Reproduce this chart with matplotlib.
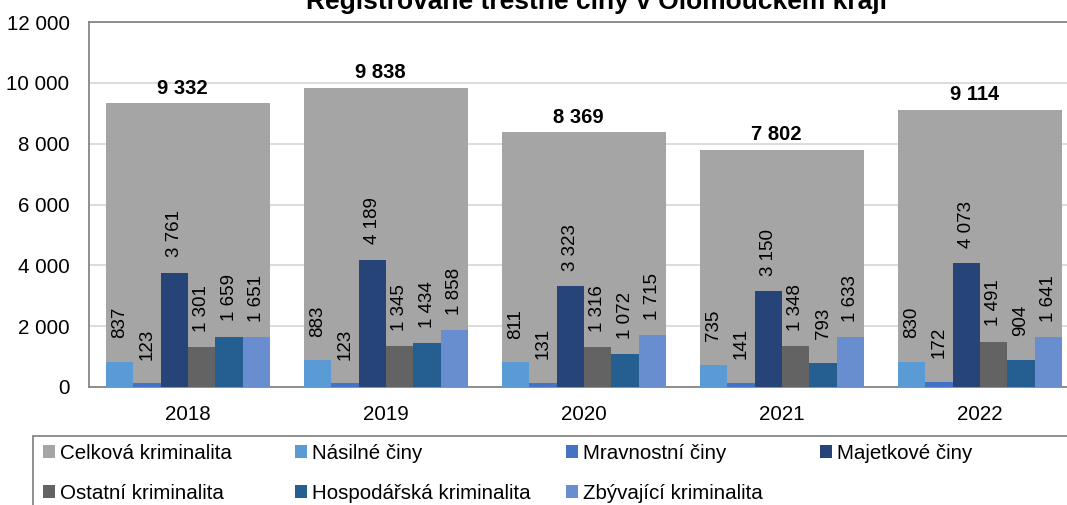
import matplotlib.pyplot as plt
import numpy as np

plt.rcParams['font.family'] = ['Liberation Sans', 'DejaVu Sans']

years = ['2018', '2019', '2020', '2021', '2022']
celkova = [9332, 9838, 8369, 7802, 9114]
nasilne = [837, 883, 811, 735, 830]
mravnostni = [123, 123, 131, 141, 172]
majetkove = [3761, 4189, 3323, 3150, 4073]
ostatni = [1301, 1345, 1316, 1348, 1491]
hospodarska = [1659, 1434, 1072, 793, 904]
zbyvajici = [1651, 1858, 1715, 1633, 1641]

names = ['Celková kriminalita', 'Násilné činy', 'Mravnostní činy', 'Majetkové činy',
         'Ostatní kriminalita', 'Hospodářská kriminalita', 'Zbývající kriminalita']
colors = ['#A5A5A5', '#5B9BD5', '#4472C4', '#264478', '#636363', '#255E91', '#698ED0']

def fmt(v):
    return f'{v:,.0f}'.replace(',', ' ')

W, H = 1067, 505
fig = plt.figure(figsize=(W / 100, H / 100), dpi=100)
ax = fig.add_axes([89 / W, 1 - 387 / H, 990 / W, 365 / H])

x = np.arange(len(years))
wtot = 0.83
small = [nasilne, mravnostni, majetkove, ostatni, hospodarska, zbyvajici]
ws = wtot / len(small)

ax.bar(x, celkova, wtot, color=colors[0], label=names[0], zorder=2)
for xi, v in zip(x, celkova):
    ax.annotate(fmt(v), (xi, v), xytext=(-4, 4), textcoords='offset points',
                ha='center', va='bottom', fontsize=14.5, fontweight='bold')

for i, vals in enumerate(small):
    pos = x - wtot / 2 + (i + 0.5) * ws
    ax.bar(pos, vals, ws, color=colors[i + 1], label=names[i + 1], zorder=3)
    for p, v in zip(pos, vals):
        s = fmt(v)
        off = 17 if len(s) <= 3 else 11
        ax.annotate(s, (p, v), xytext=(0, off), textcoords='offset points',
                    ha='center', va='bottom', rotation=90, fontsize=13.5)

ax.set_xlim(-0.5, 4.5)
ax.set_ylim(0, 12000)
ax.set_yticks(np.arange(0, 12001, 2000))
ax.set_yticklabels([fmt(v) for v in np.arange(0, 12001, 2000)])
ax.set_xticks(x)
ax.set_xticklabels(years)
ax.tick_params(axis='both', length=0, labelsize=14.8)
ax.tick_params(axis='y', pad=14)
ax.tick_params(axis='x', pad=13)
ax.yaxis.grid(True, color='#D9D9D9', lw=1.3, zorder=0)
ax.set_axisbelow(True)
for s in ['left', 'top', 'bottom']:
    ax.spines[s].set_color('#868686')
    ax.spines[s].set_linewidth(1.3)
ax.spines['right'].set_visible(False)

fig.text(597 / W, 1 - 9 / H, 'Registrované trestné činy v Olomouckém kraji',
         ha='center', va='baseline', fontsize=19, fontweight='bold')

# legend frame
fig.patches.append(plt.Rectangle((33 / W, -0.1), 1.2, 1 - 436 / H + 0.1,
                                 transform=fig.transFigure, fill=False,
                                 edgecolor='#868686', lw=1.3))

handles, labels = ax.get_legend_handles_labels()
cols = [[0, 4], [1, 5], [2, 6], [3]]
col_x = [43, 295, 566, 820]
for cx, idx in zip(col_x, cols):
    leg = fig.legend([handles[k] for k in idx], [labels[k] for k in idx],
                     loc='upper left', bbox_to_anchor=(cx / W, 1 - 444 / H),
                     frameon=False, borderpad=0, borderaxespad=0,
                     handlelength=0.6, handleheight=0.6, handletextpad=0.25,
                     labelspacing=1.0, fontsize=14.8)

fig.savefig('out.png', dpi=100)
